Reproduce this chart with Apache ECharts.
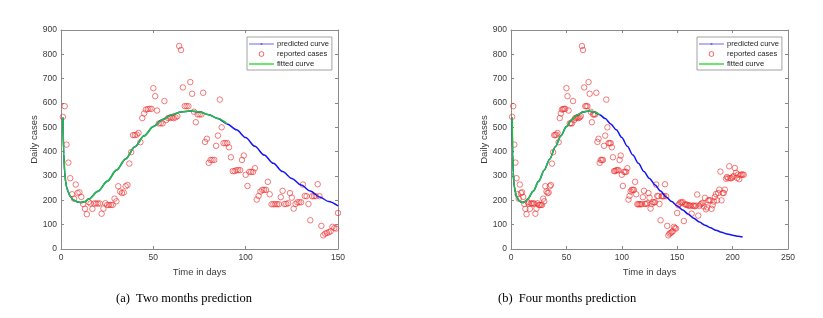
<!DOCTYPE html>
<html><head><meta charset="utf-8">
<script src="https://cdn.jsdelivr.net/npm/echarts@6/dist/echarts.min.js"></script>
<style>html,body{margin:0;padding:0;background:#fff}#c{width:823px;height:318px}</style>
</head><body><div id="c"></div>
<script>
// Reported daily cases, day 1 .. day 210
const reportedCases = [
  543, 587, 429, 355, 291, 225, 207, 265, 230, 233,
  214, 185, 165, 143, 193, 187, 165, 187, 187, 187,
  187, 145, 166, 188, 181, 181, 181, 181, 207, 196,
  258, 236, 230, 232, 258, 263, 351, 398, 468, 468,
  470, 477, 439, 538, 557, 573, 575, 576, 576, 661,
  628, 569, 516, 517, 516, 608, 530, 538, 540, 540,
  538, 541, 546, 834, 818, 664, 587, 587, 587, 686,
  638, 564, 521, 553, 553, 553, 642, 440, 453, 354,
  366, 366, 366, 424, 466, 614, 500, 435, 435, 435,
  418, 377, 320, 320, 324, 324, 324, 366, 384, 305,
  259, 317, 317, 317, 332, 203, 218, 236, 243, 243,
  243, 276, 225, 184, 184, 184, 184, 184, 213, 239,
  185, 185, 188, 230, 211, 166, 185, 192, 192, 192,
  265, 218, 217, 185, 118, 217, 217, 217, 266, 217,
  95, 56, 63, 66, 69, 73, 91, 86, 84, 148,
  180, 186, 192, 190, 193, 115, 184, 182, 182, 178,
  180, 177, 145, 178, 178, 176, 178, 224, 137, 177,
  183, 187, 189, 175, 210, 163, 171, 200, 200, 200,
  165, 180, 195, 214, 226, 200, 230, 244, 318, 200,
  230, 230, 244, 289, 296, 291, 340, 291, 291, 295,
  300, 333, 313, 292, 306, 287, 303, 306, 306, 305
];
// Model curve
const curveDays = [1, 1.5, 2, 2.5, 3, 4, 5, 7, 9, 11, 13, 15, 20, 25, 30, 35, 40, 45, 50, 55, 60, 65, 70, 75, 80, 85, 90, 95, 100, 105, 110, 115, 120, 125, 130, 135, 140, 145, 150, 155, 160, 165, 170, 175, 180, 185, 190, 195, 200, 205, 209];
const curveValues = [540, 390, 315, 278, 256, 232, 216, 200, 193, 191, 195, 205, 237, 278, 324, 370, 420, 465, 503, 532, 552, 563, 567, 563, 552, 536, 514, 490, 458, 422, 386, 352, 318, 290, 263, 238, 214, 195, 177, 160, 143, 126, 111, 98, 87, 77, 69, 62, 57, 52, 49];
const fitEndDays = [90, 80];
const lastDays = [150, 210];
const xMaxes = [150, 250];
const yTicks = [0, 900, 100];
const captions = ['(a)  Two months prediction', '(b)  Four months prediction'];
const seriesNames = ['predicted curve', 'reported cases', 'fitted curve'];
const xName = 'Time in days', yName = 'Daily cases';

const AX = '#8a8a8a', TXT = '#3a3a3a';
// legend icons drawn in a 25x8 frame (tiny anchors fix the frame)
const FRAME = ' M0,0 L0.01,0 L0,0.01 Z M25,8 L24.99,8 L25,7.99 Z';
const iconPredicted = 'path://M0,3.6 L25,3.6 L25,4.4 L0,4.4 Z M11.6,2.9 L13.4,2.9 L13.4,5.1 L11.6,5.1 Z' + FRAME;
const iconReported = 'path://M9.8,4 A2.7,2.7 0 1,0 15.2,4 A2.7,2.7 0 1,0 9.8,4 Z M10.55,4 A1.95,1.95 0 1,1 14.45,4 A1.95,1.95 0 1,1 10.55,4 Z' + FRAME;
const iconFitted = 'path://M0,3 L25,3 L25,5 L0,5 Z' + FRAME;

const grids = [
  { left: 61, top: 30, width: 277, height: 219 },
  { left: 511, top: 30, width: 277, height: 219 }
];
const xAxes = [], yAxes = [], series = [], legends = [], titles = [];
grids.forEach((g, i) => {
  const base = {
    gridIndex: i, type: 'value', splitLine: { show: false },
    axisLine: { show: true, onZero: false, lineStyle: { color: AX, width: 1 } },
    axisTick: { show: true, inside: true, length: 3, lineStyle: { color: AX } }
  };
  xAxes.push(Object.assign({}, base, {
    position: 'bottom', min: 0, max: xMaxes[i], interval: 50,
    axisLabel: { fontSize: 8.5, color: TXT, margin: 4, fontFamily: 'Liberation Sans' },
    name: xName, nameLocation: 'middle', nameGap: 16,
    nameTextStyle: { fontSize: 9.5, color: TXT, fontFamily: 'Liberation Sans' }
  }));
  xAxes.push(Object.assign({}, base, {
    position: 'top', min: 0, max: xMaxes[i], interval: 50, axisLabel: { show: false }
  }));
  yAxes.push(Object.assign({}, base, {
    position: 'left', min: yTicks[0], max: yTicks[1], interval: yTicks[2],
    axisLabel: { fontSize: 8.5, color: TXT, margin: 4, fontFamily: 'Liberation Sans' },
    name: yName, nameLocation: 'middle', nameGap: 18, nameRotate: 90,
    nameTextStyle: { fontSize: 9.5, color: TXT, fontFamily: 'Liberation Sans' }
  }));
  yAxes.push(Object.assign({}, base, {
    position: 'right', min: yTicks[0], max: yTicks[1], interval: yTicks[2], axisLabel: { show: false }
  }));
  const curve = curveDays.map((d, k) => [d, curveValues[k]]).filter(p => p[0] <= lastDays[i]);
  const fitted = curve.filter(p => p[0] <= fitEndDays[i]);
  const pts = reportedCases.map((v, k) => [k + 1, v]).filter(p => p[0] <= lastDays[i]);
  series.push({
    name: seriesNames[0], type: 'line', xAxisIndex: 2 * i, yAxisIndex: 2 * i,
    data: curve, smooth: 0.3, smoothMonotone: 'x', symbol: 'none',
    lineStyle: { color: '#1414f4', width: 1.5 }, itemStyle: { color: '#1414f4' }, z: 3, silent: true
  });
  series.push({
    name: seriesNames[1], type: 'scatter', xAxisIndex: 2 * i, yAxisIndex: 2 * i,
    data: pts, symbol: 'circle', symbolSize: 5.5,
    itemStyle: { color: 'rgba(0,0,0,0)', borderColor: '#ec3030', borderWidth: 0.8 }, z: 2, silent: true
  });
  series.push({
    name: seriesNames[2], type: 'line', xAxisIndex: 2 * i, yAxisIndex: 2 * i,
    data: fitted, smooth: 0.3, smoothMonotone: 'x', symbol: 'none',
    lineStyle: { color: '#22c33a', width: 1.6 }, itemStyle: { color: '#22c33a' }, z: 4, silent: true
  });
  legends.push({
    orient: 'vertical', left: i === 0 ? 247 : 697, top: 37,
    itemWidth: 25, itemHeight: 8, itemGap: 2, padding: [3, 3, 2, 2],
    borderColor: '#8c8c8c', borderWidth: 0.8, backgroundColor: '#fff',
    textStyle: { fontSize: 7.6, color: '#222', fontFamily: 'Liberation Sans', padding: [0, 0, 0, -2] },
    selectedMode: false,
    data: [
      { name: seriesNames[0], icon: iconPredicted, itemStyle: { color: '#6a6af4', borderWidth: 0 } },
      { name: seriesNames[1], icon: iconReported, itemStyle: { color: '#ec3030', borderWidth: 0 } },
      { name: seriesNames[2], icon: iconFitted, itemStyle: { color: '#6ee46e', borderWidth: 0 } }
    ]
  });
  titles.push({
    text: captions[i], left: i === 0 ? 111 : 493, top: 287,
    textStyle: { fontFamily: 'Liberation Serif', fontSize: 12.5, fontWeight: 'normal', color: '#000' }
  });
});
const chart = echarts.init(document.getElementById('c'), null, { renderer: 'canvas' });
chart.setOption({
  animation: false, backgroundColor: '#fff',
  title: titles, grid: grids, xAxis: xAxes, yAxis: yAxes, legend: legends, series: series
});
</script></body></html>
